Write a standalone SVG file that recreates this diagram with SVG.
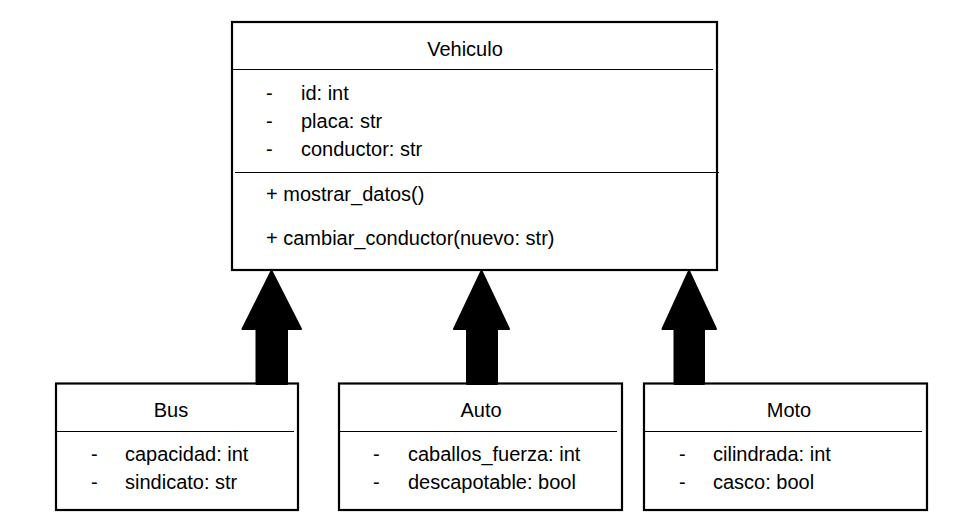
<svg xmlns="http://www.w3.org/2000/svg" width="971" height="526" viewBox="0 0 971 526">
<style>
.box{fill:#fff;stroke:#000;stroke-width:2.2}
.sep{stroke:#000;stroke-width:1.2;fill:none}
.t{font-family:"Liberation Sans",Arial,sans-serif;font-size:20px;fill:#000}
.c{text-anchor:middle}
.arrow{fill:#000;stroke:#000;stroke-width:2;stroke-linejoin:round}
</style>
<rect width="971" height="526" fill="#fff"/>
<g id="Vehiculo">
<rect class="box" x="232" y="22" width="485" height="248"/>
<line class="sep" x1="232" y1="69.5" x2="713" y2="69.5"/>
<line class="sep" x1="235" y1="172.5" x2="719" y2="172.5"/>
<text class="t c" x="465" y="56">Vehiculo</text>
<text class="t" x="266" y="100">-</text><text class="t" x="301" y="100">id: int</text>
<text class="t" x="266" y="128">-</text><text class="t" x="301" y="128">placa: str</text>
<text class="t" x="266" y="156">-</text><text class="t" x="301" y="156">conductor: str</text>
<text class="t" x="266" y="201">+ mostrar_datos()</text>
<text class="t" x="266" y="245">+ cambiar_conductor(nuevo: str)</text>
</g>
<g id="Bus">
<rect class="box" x="56" y="383.5" width="242" height="126.5"/>
<line class="sep" x1="56" y1="431.5" x2="294" y2="431.5"/>
<text class="t c" x="171" y="417">Bus</text>
<text class="t" x="91" y="461">-</text><text class="t" x="125" y="461">capacidad: int</text>
<text class="t" x="91" y="489">-</text><text class="t" x="125" y="489">sindicato: str</text>
</g>
<g id="Auto">
<rect class="box" x="339" y="383.5" width="283" height="126.5"/>
<line class="sep" x1="339" y1="431.5" x2="617" y2="431.5"/>
<text class="t c" x="481" y="417">Auto</text>
<text class="t" x="373" y="461">-</text><text class="t" x="408" y="461">caballos_fuerza: int</text>
<text class="t" x="373" y="489">-</text><text class="t" x="408" y="489">descapotable: bool</text>
</g>
<g id="Moto">
<rect class="box" x="644" y="383.5" width="283" height="126.5"/>
<line class="sep" x1="644" y1="431.5" x2="922" y2="431.5"/>
<text class="t c" x="789" y="417">Moto</text>
<text class="t" x="679" y="461">-</text><text class="t" x="713" y="461">cilindrada: int</text>
<text class="t" x="679" y="489">-</text><text class="t" x="713" y="489">casco: bool</text>
</g>
<g id="connectors">
<polygon class="arrow" points="271.5,271 242.5,329 256.5,329 256.5,384 287,384 287,329 301,329"/>
<polygon class="arrow" points="481.5,271 454,329 467,329 467,384 497,384 497,329 509,329"/>
<polygon class="arrow" points="689,271 662.5,329 674.5,329 674.5,384 704,384 704,329 716,329"/>
</g>
</svg>
